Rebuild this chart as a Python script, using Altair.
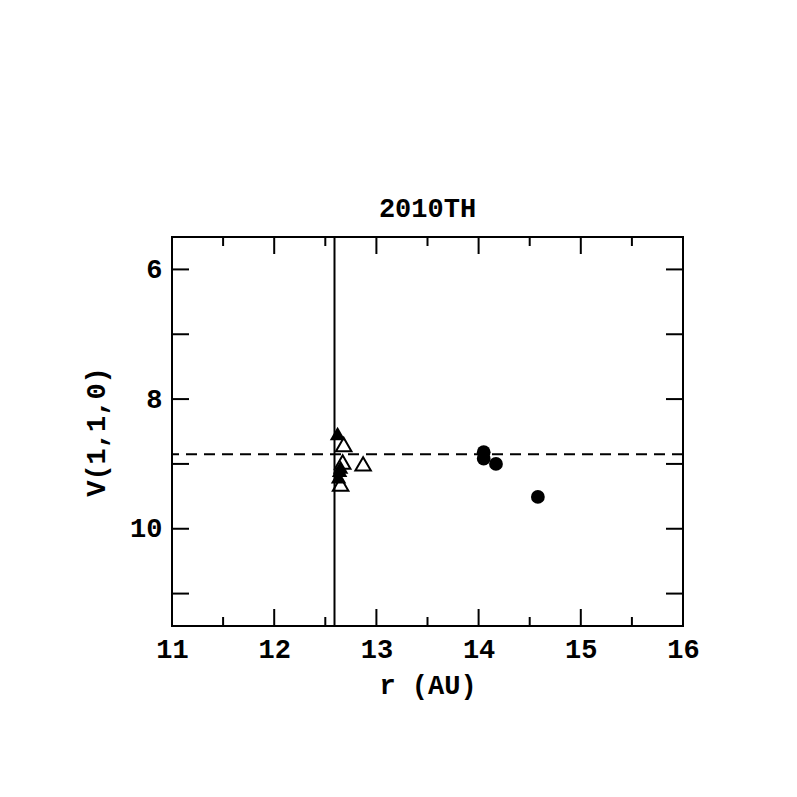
import altair as alt
import pandas as pd

# data
r_filled_tri = [12.62, 12.65, 12.64, 12.63]
v_filled_tri = [8.53, 9.05, 9.10, 9.20]
r_open_tri = [12.68, 12.67, 12.87, 12.65]
v_open_tri = [8.70, 8.97, 9.00, 9.31]
r_circle = [14.05, 14.05, 14.17, 14.58]
v_circle = [8.82, 8.92, 9.00, 9.51]
r_vline = [12.59]
v_hline = [8.85]

x_major = [11, 12, 13, 14, 15, 16]
x_minor = [11.5, 12.5, 13.5, 14.5, 15.5]
y_major = [6, 7, 8, 9, 10, 11]
y_labels = [6, 8, 10]

W, H = 511, 389
FONT = "Liberation Mono"
FS = 27

xs = alt.Scale(domain=[11, 16], nice=False, zero=False)
ys = alt.Scale(domain=[5.5, 11.5], nice=False, zero=False, reverse=True)

df_ft = pd.DataFrame({"r": r_filled_tri, "v": v_filled_tri})
df_ot = pd.DataFrame({"r": r_open_tri, "v": v_open_tri})
df_c = pd.DataFrame({"r": r_circle, "v": v_circle})

xaxis = alt.Axis(values=x_major, ticks=False, domain=False, grid=False,
                 labelFont=FONT, labelFontSize=FS, labelFontWeight="bold",
                 labelColor="black", labelPadding=10, labelFlush=False,
                 labelOverlap=False, labelBound=False, title="r (AU)",
                 titleFont=FONT, titleFontSize=FS, titleFontWeight="bold",
                 titleColor="black", titlePadding=10, format="d")
yaxis = alt.Axis(values=y_labels, ticks=False, domain=False, grid=False,
                 labelFont=FONT, labelFontSize=FS, labelFontWeight="bold",
                 labelColor="black", labelPadding=10, labelFlush=False,
                 labelOverlap=False, labelBound=False, title="V(1,1,0)",
                 titleFont=FONT, titleFontSize=FS, titleFontWeight="bold",
                 titleColor="black", titlePadding=19, format="d")


def X(field):
    return alt.X(field, scale=xs, axis=xaxis, title="r (AU)")


def Y(field):
    return alt.Y(field, scale=ys, axis=yaxis, title="V(1,1,0)")


pts_ft = alt.Chart(df_ft).mark_point(shape="triangle-up", filled=True,
                                     color="black", size=240, opacity=1).encode(
    x=X("r:Q"), y=Y("v:Q"))
pts_ot = alt.Chart(df_ot).mark_point(shape="triangle-up", filled=False,
                                     color="black", size=240, strokeWidth=2,
                                     opacity=1).encode(
    x=X("r:Q"), y=Y("v:Q"))
pts_c = alt.Chart(df_c).mark_point(shape="circle", filled=True,
                                   color="black", size=190, opacity=1).encode(
    x=X("r:Q"), y=Y("v:Q"))

vline = alt.Chart(pd.DataFrame({"r": r_vline})).mark_rule(
    color="black", strokeWidth=2).encode(x=X("r:Q"))
hline = alt.Chart(pd.DataFrame({"v": v_hline})).mark_rule(
    color="black", strokeWidth=2, strokeDash=[11, 7]).encode(y=Y("v:Q"))


def xticks(vals, length):
    d = pd.DataFrame({"r": vals})
    bottom = alt.Chart(d).mark_rule(color="black", strokeWidth=2).encode(
        x=X("r:Q"), y=alt.value(H), y2=alt.value(H - length))
    top = alt.Chart(d).mark_rule(color="black", strokeWidth=2).encode(
        x=X("r:Q"), y=alt.value(0), y2=alt.value(length))
    return [bottom, top]


def yticks(vals, length):
    d = pd.DataFrame({"v": vals})
    left = alt.Chart(d).mark_rule(color="black", strokeWidth=2).encode(
        y=Y("v:Q"), x=alt.value(0), x2=alt.value(length))
    right = alt.Chart(d).mark_rule(color="black", strokeWidth=2).encode(
        y=Y("v:Q"), x=alt.value(W), x2=alt.value(W - length))
    return [left, right]


layers = [pts_ft, pts_ot, pts_c, vline, hline] + xticks(x_major, 17) + \
    xticks(x_minor, 9) + yticks(y_major, 17)

chart = alt.layer(*layers).properties(
    width=W, height=H,
    background="white",
    title=alt.TitleParams("2010TH", font=FONT, fontSize=FS, fontWeight="bold",
                          color="black", offset=13),
    autosize=alt.AutoSizeParams(type="none"),
    padding={"left": 164, "top": 229, "right": 90, "bottom": 150},
).configure_view(stroke="black", strokeWidth=2)

chart.save("out.html", embed_options={"renderer": "svg", "actions": False})
